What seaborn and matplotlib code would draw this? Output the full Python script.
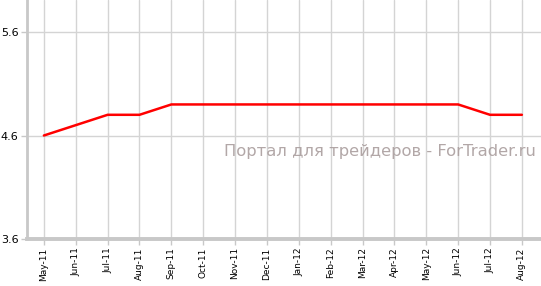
import matplotlib
matplotlib.use("Agg")
import matplotlib.pyplot as plt
import seaborn as sns
import pandas as pd

months = ["May-11", "Jun-11", "Jul-11", "Aug-11", "Sep-11", "Oct-11", "Nov-11", "Dec-11",
          "Jan-12", "Feb-12", "Mar-12", "Apr-12", "May-12", "Jun-12", "Jul-12", "Aug-12"]
values = [4.6, 4.7, 4.8, 4.8, 4.9, 4.9, 4.9, 4.9, 4.9, 4.9, 4.9, 4.9, 4.9, 4.9, 4.8, 4.8]
yticks = [3.6, 4.6, 5.6]
watermark = "Портал для трейдеров - ForTrader.ru"

sns.set_theme(style="white")
plt.rcParams['font.family'] = ['DejaVu Sans']

df = pd.DataFrame({"x": range(len(months)), "value": values})

fig = plt.figure(figsize=(5.41, 2.86), dpi=100)
ax = fig.add_axes([27/541, 47/286, 1 - 27/541, 1 - 47/286])

sns.lineplot(data=df, x="x", y="value", ax=ax, color="#ff0000", linewidth=1.8, zorder=3)

ax.set_xlim(-0.53, len(months) - 1 + 0.6)
ax.set_ylim(3.6, 5.6 + 32/103.5)
ax.set_xticks(range(len(months)))
ax.set_xticklabels(months, rotation=90, fontsize=6.5, color="#000000")
ax.set_yticks(yticks)
ax.set_yticklabels([f"{v:.1f}" for v in yticks], fontsize=8, color="#000000")
ax.set_xlabel("")
ax.set_ylabel("")

ax.grid(True, color="#d4d4d4", linewidth=1.0, zorder=0)
ax.set_axisbelow(True)

for s in ["top", "right"]:
    ax.spines[s].set_visible(False)
ax.spines["left"].set_color("#c8c8c8")
ax.spines["left"].set_linewidth(2)
ax.spines["bottom"].set_color("#c8c8c8")
ax.spines["bottom"].set_linewidth(2.8)

ax.tick_params(axis="x", length=4, width=1, color="#c8c8c8", pad=2, bottom=True)
ax.tick_params(axis="y", length=4, width=1, color="#c8c8c8", pad=2, left=True)

ax.text(0.99, 0.368, watermark, transform=ax.transAxes, ha="right", va="center",
        fontsize=11.8, color="#aa9e9e", alpha=0.9, zorder=1)

fig.savefig("out.png", dpi=100)
